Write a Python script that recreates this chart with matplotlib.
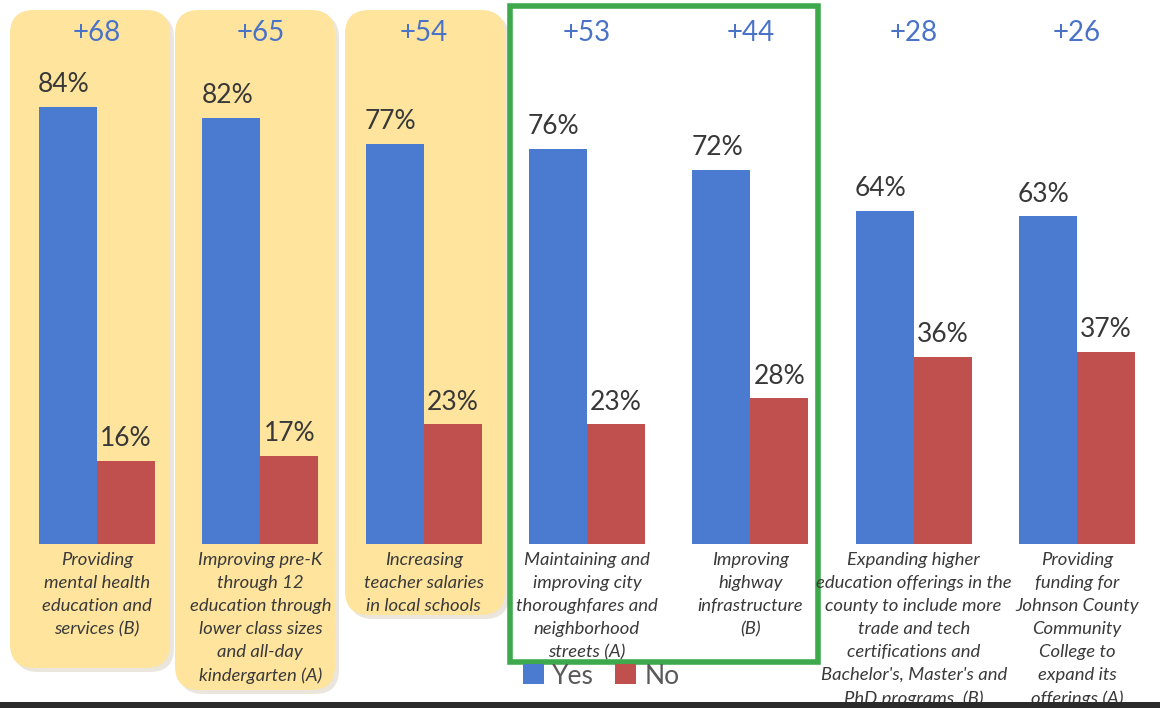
import matplotlib.pyplot as plt
import numpy as np
from matplotlib.patches import FancyBboxPatch, Rectangle

plt.rcParams['font.family'] = ['Lato', 'DejaVu Sans']

categories = ["Providing\nmental health\neducation and\nservices (B)",
              "Improving pre-K\nthrough 12\neducation through\nlower class sizes\nand all-day\nkindergarten (A)",
              "Increasing\nteacher salaries\nin local schools",
              "Maintaining and\nimproving city\nthoroughfares and\nneighborhood\nstreets (A)",
              "Improving\nhighway\ninfrastructure\n(B)",
              "Expanding higher\neducation offerings in the\ncounty to include more\ntrade and tech\ncertifications and\nBachelor's, Master's and\nPhD programs. (B)",
              "Providing\nfunding for\nJohnson County\nCommunity\nCollege to\nexpand its\nofferings (A)"]
yes = [84, 82, 77, 76, 72, 64, 63]
no = [16, 17, 23, 23, 28, 36, 37]

BLUE = "#4a7bd1"
RED = "#c0504d"
YELLOW = "#fee49d"

W, H = 1160, 708
fig = plt.figure(figsize=(W/100, H/100), dpi=100)
fig.patch.set_facecolor("white")

# background decoration layer in pixel coords
bg = fig.add_axes([0, 0, 1, 1], zorder=0)
bg.set_xlim(0, W)
bg.set_ylim(H, 0)
bg.axis("off")
for (x0, x1, y0, y1) in [(10, 170, 10, 668), (175, 335, 10, 690), (345, 505, 10, 615)]:
    bg.add_patch(FancyBboxPatch((x0+4, y0+4), x1-x0, y1-y0,
                                boxstyle="round,pad=0,rounding_size=24",
                                fc="#d6cfbd", ec="none", alpha=0.5))
    bg.add_patch(FancyBboxPatch((x0, y0), x1-x0, y1-y0,
                                boxstyle="round,pad=0,rounding_size=24",
                                fc=YELLOW, ec="none"))
bg.add_patch(Rectangle((510, 6), 308, 656, fill=False, ec="#3ea84c", lw=4))

ax = fig.add_axes([15.3/W, (H-544)/H, (1158.7-15.3)/W, 544/H], zorder=1)
ax.patch.set_alpha(0)
x = np.arange(len(yes))
bw = 0.355
b1 = ax.bar(x - bw/2, yes, bw, color=BLUE, label="Yes")
b2 = ax.bar(x + bw/2, no, bw, color=RED, label="No")
ax.set_xlim(-0.5, len(yes) - 0.5)
ax.set_ylim(0, 544/5.2)
ax.axis("off")

for i in range(len(yes)):
    ax.annotate("%d%%" % yes[i], (x[i] - bw/2, yes[i]), xytext=(-3, 7), textcoords="offset points",
                ha="center", va="bottom", fontsize=19, color="#383838")
    ax.annotate("%d%%" % no[i], (x[i] + bw/2, no[i]), xytext=(0, 7), textcoords="offset points",
                ha="center", va="bottom", fontsize=19, color="#383838")
    ax.text(x[i], 98.3, "+%d" % (yes[i] - no[i]), ha="center", va="center",
            fontsize=20, color="#4a73c8")
    ax.annotate(categories[i], (x[i], 0), xytext=(0, -6), textcoords="offset points",
                ha="center", va="top", fontsize=13.3, style="italic", color="#3a3a3a",
                linespacing=1.53, annotation_clip=False)

fig.legend(handles=[b1, b2], loc="center left", bbox_to_anchor=(510/W, 1-676/H),
           frameon=False, fontsize=19, ncol=2, handlelength=0.8, handleheight=0.8,
           handletextpad=0.3, columnspacing=0.8, borderpad=0, labelcolor="#595959")

# dark strip along the bottom edge, drawn over the clipped label text
top = fig.add_axes([0, 0, 1, 1], zorder=2)
top.set_xlim(0, W)
top.set_ylim(H, 0)
top.axis("off")
top.add_patch(Rectangle((0, 702), W, 6, fc="#2b2b2b", ec="none"))

fig.savefig("out.png", dpi=100, facecolor="white")
